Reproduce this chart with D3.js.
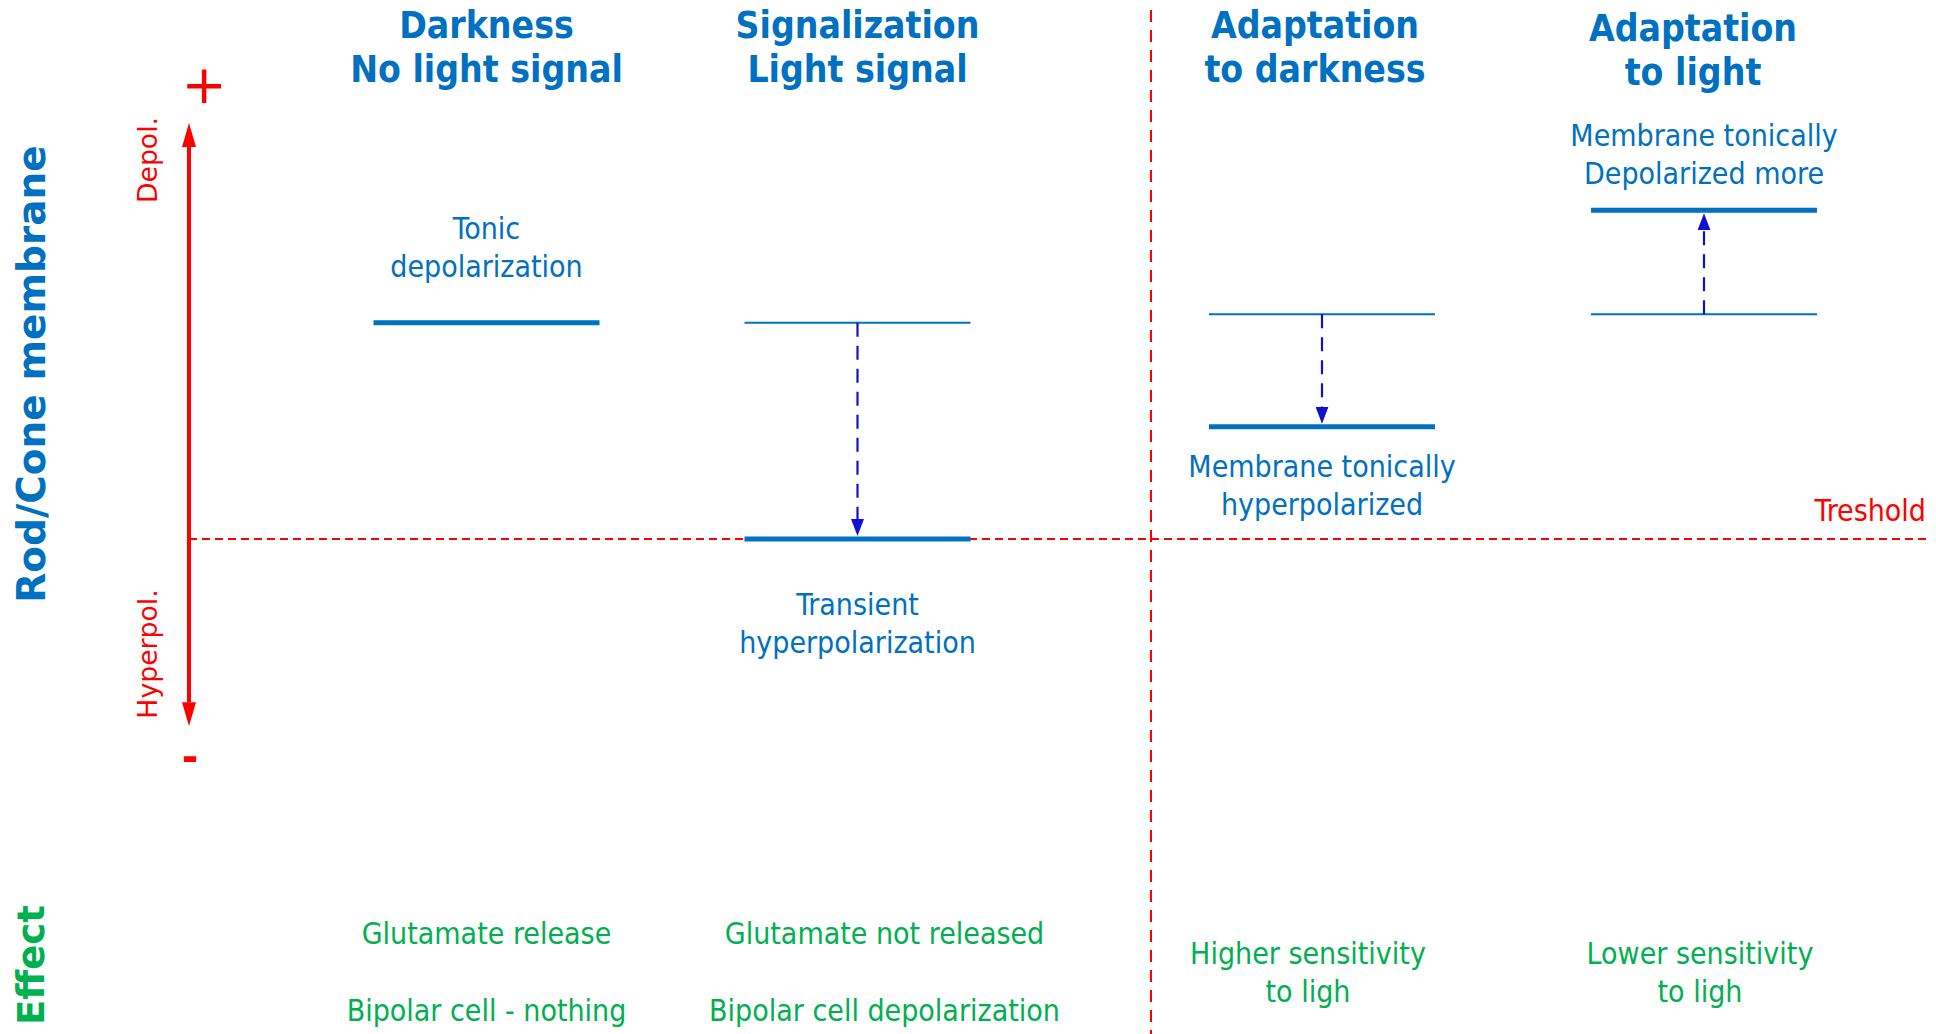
<!DOCTYPE html>
<html>
<head>
<meta charset="utf-8">
<script src="https://cdnjs.cloudflare.com/ajax/libs/d3/7.8.5/d3.min.js"></script>
<style>
  body { margin: 0; background: #fff; }
  svg { display: block; }
</style>
</head>
<body>
<script>
// panels (left two = signalling, right two = adaptation)
var titles = [["Darkness", "No light signal"], ["Signalization", "Light signal"],
              ["Adaptation", "to darkness"], ["Adaptation", "to light"]];
var groups = ["signal", "signal", "adapt", "adapt"];

// membrane level, arbitrary units, threshold = 0
var fromLevel = [52, 52, 54, 54];
var toLevel = [52, 0, 27, 79];
var threshold = 0;
var axisEnds = [100, -45];

var stateLabels = [["Tonic", "depolarization"], ["Transient", "hyperpolarization"],
                   ["Membrane tonically", "hyperpolarized"], ["Membrane tonically", "Depolarized more"]];

var effects = [
  [["Glutamate release"], ["Bipolar cell - nothing"]],
  [["Glutamate not released"], ["Bipolar cell depolarization"]],
  [["Higher sensitivity", "to ligh"]],
  [["Lower sensitivity", "to ligh"]]
];

var W = 1936, H = 1034;
var BLUE = "#0070C0", RED = "#FF0000", GREEN = "#00B050", ARROW = "#1010D0";
var condensed = "'DejaVu Sans Condensed', 'DejaVu Sans', sans-serif";
var wide = "'DejaVu Sans', Verdana, sans-serif";

var svg = d3.select("body").append("svg").attr("width", W).attr("height", H);

var idx = d3.range(titles.length);
var xLeft = d3.scaleBand().domain(idx.filter(function (i) { return groups[i] == "signal"; })).range([301, 1043]);
var xRight = d3.scaleBand().domain(idx.filter(function (i) { return groups[i] == "adapt"; })).range([1131, 1895]);
function cx(i) {
  var s = groups[i] == "signal" ? xLeft : xRight;
  return s(i) + s.bandwidth() / 2;
}
var y = d3.scaleLinear().domain([0, 100]).range([539, 123]);
var divX = 1151, barW = 226;

// small text nudges, as in the original slide
var titleShift = [0, 0, -7, -11], titleDrop = [0, 0, 0, 3];
var effectShift = [0, 27, -14, -4];
var labelGap = [56, 65, 40, 37];

var defs = svg.append("defs");
defs.append("marker").attr("id", "redHead")
    .attr("viewBox", "0 0 24 14").attr("refX", 0).attr("refY", 7)
    .attr("markerWidth", 24).attr("markerHeight", 14)
    .attr("markerUnits", "userSpaceOnUse").attr("orient", "auto-start-reverse")
  .append("path").attr("d", "M0,0L24,7L0,14z").attr("fill", RED);
defs.append("marker").attr("id", "blueHead")
    .attr("viewBox", "0 0 17 13").attr("refX", 0).attr("refY", 6.5)
    .attr("markerWidth", 17).attr("markerHeight", 13)
    .attr("markerUnits", "userSpaceOnUse").attr("orient", "auto")
  .append("path").attr("d", "M0,0L17,6.5L0,13z").attr("fill", ARROW);

// threshold + divider
svg.append("line")
    .attr("x1", 189).attr("x2", 1926).attr("y1", y(threshold)).attr("y2", y(threshold))
    .attr("stroke", RED).attr("stroke-width", 2).attr("stroke-dasharray", "8,5");
svg.append("text").attr("x", 1926).attr("y", 510).attr("dy", "0.35em")
    .attr("text-anchor", "end").attr("fill", RED)
    .style("font-family", condensed).style("font-size", "30px").text("Treshold");
svg.append("line")
    .attr("x1", divX).attr("x2", divX).attr("y1", 10).attr("y2", H)
    .attr("stroke", RED).attr("stroke-width", 2).attr("stroke-dasharray", "12,8");

// potential axis
var axX = 189;
svg.append("line")
    .attr("x1", axX).attr("x2", axX)
    .attr("y1", y(axisEnds[0]) + 24).attr("y2", y(axisEnds[1]) - 24)
    .attr("stroke", RED).attr("stroke-width", 4)
    .attr("marker-start", "url(#redHead)").attr("marker-end", "url(#redHead)");
svg.append("text").attr("x", 204).attr("y", 84).attr("dy", "0.35em")
    .attr("text-anchor", "middle").attr("fill", RED)
    .style("font-family", wide).style("font-size", "54px").text("+");
svg.append("text").attr("x", 190).attr("y", 757).attr("dy", "0.35em")
    .attr("text-anchor", "middle").attr("fill", RED)
    .style("font-family", wide).style("font-weight", "bold").style("font-size", "40px").text("-");

function vtext(x, yy, txt, color, size, weight, fam) {
  svg.append("text").attr("transform", "translate(" + x + "," + yy + ") rotate(-90)")
      .attr("dy", "0.35em").attr("text-anchor", "middle").attr("fill", color)
      .style("font-family", fam).style("font-size", size + "px").style("font-weight", weight)
      .text(txt);
}
vtext(148, 160, "Depol.", RED, 26.7, "normal", wide);
vtext(148, 654, "Hyperpol.", RED, 26.7, "normal", wide);
vtext(31, 374, "Rod/Cone membrane", BLUE, 39, "bold", wide);
vtext(31, 965, "Effect", GREEN, 37, "bold", wide);

// titles
var tg = svg.selectAll(".title").data(idx).enter().append("text")
    .attr("class", "title").attr("text-anchor", "middle").attr("fill", BLUE)
    .style("font-family", condensed).style("font-weight", "bold").style("font-size", "37px");
tg.selectAll("tspan").data(function (i) { return titles[i].map(function (t) { return { i: i, t: t }; }); })
  .enter().append("tspan")
    .attr("x", function (d) { return cx(d.i) + titleShift[d.i]; })
    .attr("y", function (d, k) { return 25 + titleDrop[d.i] + k * 44; })
    .attr("dy", "0.35em")
    .text(function (d) { return d.t; });

// thin start level
svg.selectAll(".from").data(idx.filter(function (i) { return fromLevel[i] != toLevel[i]; }))
  .enter().append("line")
    .attr("x1", function (i) { return cx(i) - barW / 2; })
    .attr("x2", function (i) { return cx(i) + barW / 2; })
    .attr("y1", function (i) { return y(fromLevel[i]); })
    .attr("y2", function (i) { return y(fromLevel[i]); })
    .attr("stroke", BLUE).attr("stroke-width", 2);

// thick end level
svg.selectAll(".to").data(idx).enter().append("line")
    .attr("x1", function (i) { return cx(i) - barW / 2; })
    .attr("x2", function (i) { return cx(i) + barW / 2; })
    .attr("y1", function (i) { return y(toLevel[i]); })
    .attr("y2", function (i) { return y(toLevel[i]); })
    .attr("stroke", BLUE).attr("stroke-width", 5);

// dashed arrows
svg.selectAll(".arr").data(idx.filter(function (i) { return fromLevel[i] != toLevel[i]; }))
  .enter().append("line")
    .attr("x1", function (i) { return cx(i); })
    .attr("x2", function (i) { return cx(i); })
    .attr("y1", function (i) { return y(fromLevel[i]); })
    .attr("y2", function (i) {
      var dir = toLevel[i] < fromLevel[i] ? 1 : -1;
      return y(toLevel[i]) - dir * (3 + 17);
    })
    .attr("stroke", ARROW).attr("stroke-width", 2.2).attr("stroke-dasharray", "14,9")
    .attr("marker-end", "url(#blueHead)");

// state labels
var lg = svg.selectAll(".lab").data(idx).enter().append("text")
    .attr("text-anchor", "middle").attr("fill", BLUE)
    .style("font-family", condensed).style("font-size", "30px");
lg.selectAll("tspan").data(function (i) { return stateLabels[i].map(function (t) { return { i: i, t: t }; }); })
  .enter().append("tspan")
    .attr("x", function (d) { return cx(d.i); })
    .attr("y", function (d, k) {
      var i = d.i, n = stateLabels[i].length;
      if (toLevel[i] >= fromLevel[i]) return y(toLevel[i]) - labelGap[i] - (n - 1 - k) * 38;
      return y(toLevel[i]) + labelGap[i] + k * 38;
    })
    .attr("dy", "0.35em")
    .text(function (d) { return d.t; });

// effects
var eg = svg.selectAll(".eff").data(idx).enter().append("text")
    .attr("text-anchor", "middle").attr("fill", GREEN)
    .style("font-family", condensed).style("font-size", "30px");
eg.selectAll("tspan").data(function (i) {
    var out = [], yy = 0;
    effects[i].forEach(function (b) {
      b.forEach(function (t) { out.push({ i: i, t: t, off: yy }); yy += 38; });
      yy += 39;
    });
    var span = out[out.length - 1].off;
    out.forEach(function (o) { o.off -= span / 2; });
    return out;
  })
  .enter().append("tspan")
    .attr("x", function (d) { return cx(d.i) + effectShift[d.i]; })
    .attr("y", function (d) { return 972 + d.off; })
    .attr("dy", "0.35em")
    .text(function (d) { return d.t; });
</script>
</body>
</html>
